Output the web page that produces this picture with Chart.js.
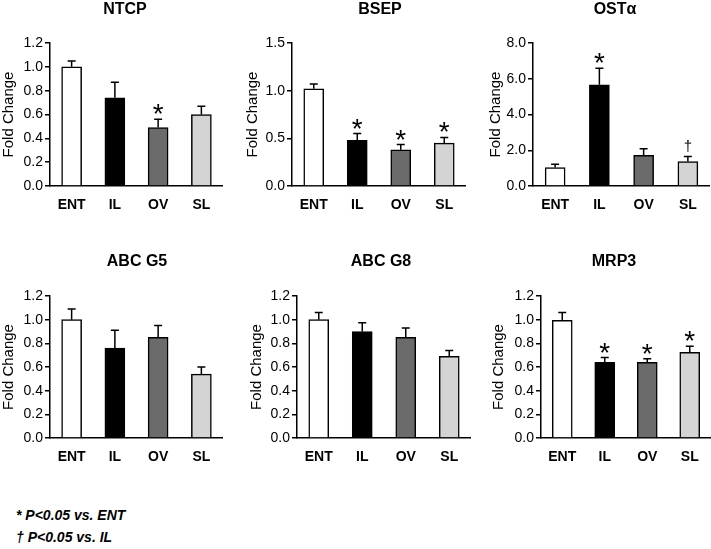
<!DOCTYPE html>
<html>
<head>
<meta charset="utf-8">
<script src="https://cdn.jsdelivr.net/npm/chart.js@4.4.1/dist/chart.umd.min.js"></script>
<style>
  body { margin: 0; background: #fff; }
  #wrap { position: relative; width: 711px; height: 549px; font-family: "Liberation Sans", Arial, sans-serif; }
  canvas { position: absolute; }
  .note { position: absolute; left: 16px; font-size: 14px; font-weight: bold; font-style: italic; line-height: 16px; color: #000; }
</style>
</head>
<body>
<div id="wrap">
  <canvas id="c1" width="223" height="226" style="left:0px;top:0px"></canvas>
  <canvas id="c2" width="222" height="226" style="left:244px;top:0px"></canvas>
  <canvas id="c3" width="223" height="226" style="left:487px;top:0px"></canvas>
  <canvas id="c4" width="223" height="228" style="left:0px;top:250px"></canvas>
  <canvas id="c5" width="223" height="228" style="left:248px;top:250px"></canvas>
  <canvas id="c6" width="221" height="228" style="left:490px;top:250px"></canvas>
  <div class="note" style="top:507px">* P&lt;0.05 vs. ENT</div>
  <div class="note" style="top:529px">† P&lt;0.05 vs. IL</div>
</div>
<script>
// Groups
const categories = ["ENT", "IL", "OV", "SL"];
const barColors = ["#ffffff", "#000000", "#6b6b6b", "#d4d4d4"];

// Mean fold change and SEM
const ntcpMean = [1.0, 0.74, 0.49, 0.60];
const ntcpSem = [0.05, 0.13, 0.07, 0.07];
const ntcpSig = ["", "", "*", ""];

const bsepMean = [1.02, 0.48, 0.38, 0.45];
const bsepSem = [0.05, 0.07, 0.055, 0.06];
const bsepSig = ["", "*", "*", "*"];

const ostMean = [1.03, 5.66, 1.72, 1.37];
const ostSem = [0.19, 0.93, 0.36, 0.28];
const ostSig = ["", "*", "", "†"];

const g5Mean = [1.0, 0.76, 0.85, 0.54];
const g5Sem = [0.09, 0.15, 0.10, 0.06];
const g5Sig = ["", "", "", ""];

const g8Mean = [1.0, 0.90, 0.85, 0.69];
const g8Sem = [0.06, 0.075, 0.08, 0.05];
const g8Sig = ["", "", "", ""];

const mrp3Mean = [0.995, 0.64, 0.64, 0.725];
const mrp3Sem = [0.065, 0.04, 0.03, 0.05];
const mrp3Sig = ["", "*", "*", "*"];

const FONT = "'Liberation Sans', Arial, sans-serif";

// Error bars (upper only) + significance marks
const errorPlugin = {
	id: "errorBars",
	afterDatasetsDraw(chart, args, opts) {
		const ctx = chart.ctx;
		const meta = chart.getDatasetMeta(0);
		const yScale = chart.scales.y;
		ctx.save();
		ctx.strokeStyle = "#000";
		ctx.lineWidth = 1.5;
		meta.data.forEach((bar, i) => {
			const top = opts.mean[i] + opts.sem[i];
			const yCap = yScale.getPixelForValue(top);
			ctx.beginPath();
			ctx.moveTo(bar.x, bar.y);
			ctx.lineTo(bar.x, yCap);
			ctx.moveTo(bar.x - 4, yCap);
			ctx.lineTo(bar.x + 4, yCap);
			ctx.stroke();
			const mark = opts.sig[i];
			if (mark === "*") {
				ctx.fillStyle = "#000";
				ctx.font = "28px " + FONT;
				ctx.textAlign = "center";
				ctx.textBaseline = "alphabetic";
				ctx.fillText("*", bar.x, yCap + 4);
			} else if (mark) {
				ctx.fillStyle = "#000";
				ctx.font = "15px " + FONT;
				ctx.textAlign = "center";
				ctx.textBaseline = "alphabetic";
				ctx.fillText(mark, bar.x, yCap - 6);
			}
		});
		ctx.restore();
	},
};

// Panel title drawn at a set spot
const titlePlugin = {
	id: "panelTitle",
	afterDraw(chart, args, opts) {
		const ctx = chart.ctx;
		ctx.save();
		ctx.fillStyle = "#000";
		ctx.font = "bold 16px " + FONT;
		ctx.textAlign = "center";
		ctx.textBaseline = "middle";
		ctx.fillText(opts.text, opts.x, opts.y);
		ctx.restore();
	},
};

function makePanel(id, title, mean, sem, sig, yMax, yStep, cfg) {
	new Chart(document.getElementById(id), {
		type: "bar",
		data: {
			labels: categories,
			datasets: [{
				data: mean,
				backgroundColor: barColors,
				borderColor: "#000",
				borderWidth: 1.5,
				barThickness: 20,
			}],
		},
		options: {
			responsive: false,
			animation: false,
			devicePixelRatio: 1,
			layout: { padding: { top: cfg.top, left: 0, right: 0, bottom: 0 } },
			plugins: {
				legend: { display: false },
				tooltip: { enabled: false },
				errorBars: { mean: mean, sem: sem, sig: sig },
				panelTitle: { text: title, x: cfg.tx, y: cfg.ty },
			},
			scales: {
				x: {
					offset: true,
					grid: { display: false, drawTicks: false },
					border: { color: "#000", width: 1.5 },
					ticks: {
						color: "#000",
						padding: 11,
						font: { family: FONT, size: 14, weight: "bold" },
					},
					afterFit(scale) { scale.height = 40; },
				},
				y: {
					min: 0,
					max: yMax,
					grid: { drawOnChartArea: false, drawTicks: true, tickLength: 5, color: "#000", lineWidth: 1.5 },
					border: { color: "#000", width: 1.5 },
					ticks: {
						stepSize: yStep,
						color: "#000",
						padding: 2,
						font: { family: FONT, size: 14 },
						callback: (v) => Number(v).toFixed(1),
					},
					title: {
						display: true,
						text: "Fold Change",
						color: "#000",
						padding: { top: 0, bottom: 0 },
						font: { family: FONT, size: 15 },
					},
					afterFit(scale) { scale.width = cfg.yw; },
				},
			},
		},
		plugins: [errorPlugin, titlePlugin],
	});
}

makePanel("c1", "NTCP", ntcpMean, ntcpSem, ntcpSig, 1.2, 0.2, { top: 43, yw: 50, tx: 125, ty: 10 });
makePanel("c2", "BSEP", bsepMean, bsepSem, bsepSig, 1.5, 0.5, { top: 43, yw: 48, tx: 136, ty: 10 });
makePanel("c3", "OSTα", ostMean, ostSem, ostSig, 8.0, 2.0, { top: 43, yw: 46, tx: 128, ty: 10 });
makePanel("c4", "ABC G5", g5Mean, g5Sem, g5Sig, 1.2, 0.2, { top: 46, yw: 50, tx: 137, ty: 12 });
makePanel("c5", "ABC G8", g8Mean, g8Sem, g8Sig, 1.2, 0.2, { top: 46, yw: 49, tx: 133, ty: 12 });
makePanel("c6", "MRP3", mrp3Mean, mrp3Sem, mrp3Sig, 1.2, 0.2, { top: 46, yw: 51, tx: 124, ty: 12 });
</script>
</body>
</html>
